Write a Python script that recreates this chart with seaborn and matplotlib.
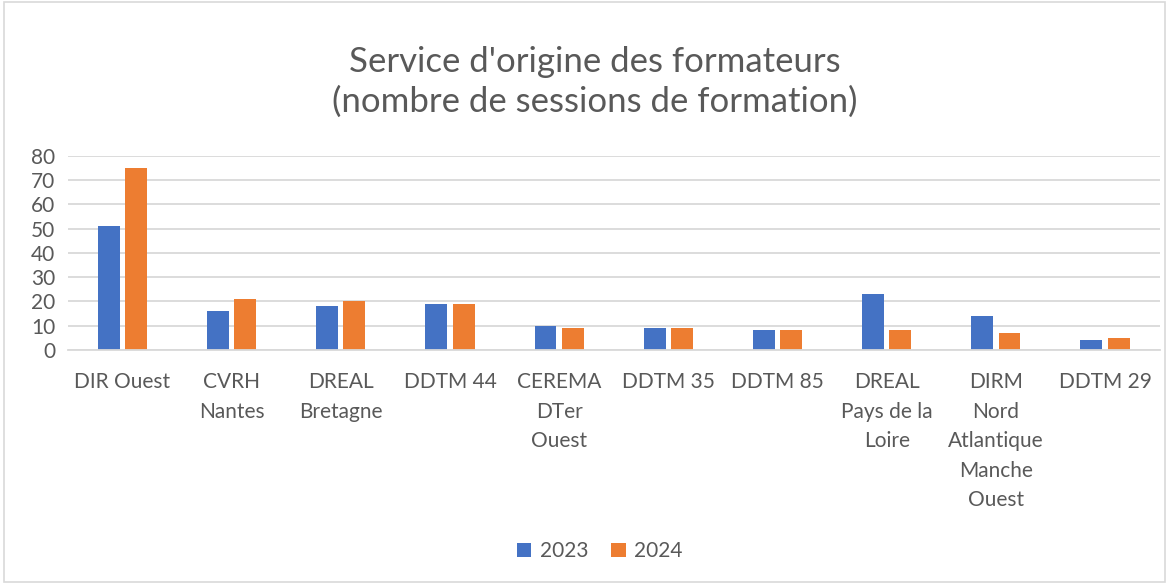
import pandas as pd
import seaborn as sns
import matplotlib.pyplot as plt
from matplotlib.patches import Rectangle

sns.set_theme(style="white")
plt.rcParams["font.family"] = ["Lato", "DejaVu Sans"]

# data
services = [
    "DIR Ouest", "CVRH\nNantes", "DREAL\nBretagne", "DDTM 44",
    "CEREMA\nDTer\nOuest", "DDTM 35", "DDTM 85", "DREAL\nPays de la\nLoire",
    "DIRM\nNord\nAtlantique\nManche\nOuest", "DDTM 29",
]
sessions_2023 = [51, 16, 18, 19, 10, 9, 8, 23, 14, 4]
sessions_2024 = [75, 21, 20, 19, 9, 9, 8, 8, 7, 5]

df = pd.DataFrame({
    "Service": services * 2,
    "Année": ["2023"] * len(services) + ["2024"] * len(services),
    "Sessions": sessions_2023 + sessions_2024,
})

fig = plt.figure(figsize=(11.69, 5.84), dpi=100)
ax = fig.add_axes([0.058, 0.401, 0.934, 0.332])

sns.barplot(
    data=df, x="Service", y="Sessions", hue="Année", ax=ax,
    palette=["#4472C4", "#ED7D31"], width=0.5, gap=0.2,
    saturation=1, edgecolor="none",
)

ax.set_ylim(0, 80)
ax.set_yticks(range(0, 81, 10))
ax.yaxis.grid(True, color="#D9D9D9", linewidth=1.3)
ax.set_axisbelow(True)
for s in ["left", "right", "top"]:
    ax.spines[s].set_visible(False)
ax.spines["bottom"].set_color("#D9D9D9")
ax.spines["bottom"].set_linewidth(1.3)
ax.tick_params(axis="both", colors="#595959", labelsize=15, length=0)
ax.tick_params(axis="x", pad=16)
ax.tick_params(axis="y", pad=9)
for lbl in ax.get_xticklabels():
    lbl.set_linespacing(1.6)
ax.set_xlabel("")
ax.set_ylabel("")

fig.suptitle("Service d'origine des formateurs\n(nombre de sessions de formation)",
             x=0.509, y=0.921, fontsize=25, color="#595959", linespacing=1.3)

ax.legend(loc="center", bbox_to_anchor=(0.513, 0.056), bbox_transform=fig.transFigure,
          ncol=2, frameon=False, fontsize=15, labelcolor="#595959",
          handlelength=0.7, handleheight=0.7, columnspacing=1.1, handletextpad=0.4)

fig.patches.append(Rectangle((0.003, 0.003), 0.994, 0.994, transform=fig.transFigure,
                             fill=False, edgecolor="#D9D9D9", linewidth=1.2))

fig.savefig("out.png", dpi=100)
